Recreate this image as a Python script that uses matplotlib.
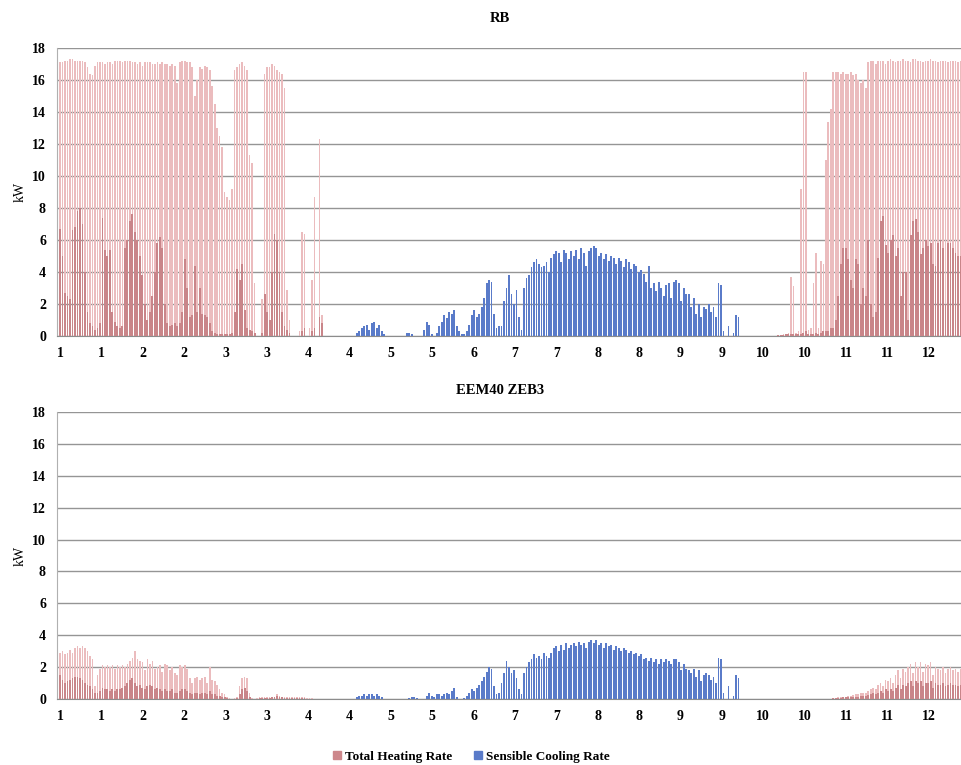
import numpy as np
import matplotlib.pyplot as plt
from matplotlib.patches import Patch

# Daily values (kW), day 0 = 1 January
# x tick labels (month of every 398th hour)
month_labels = [1, 1, 2, 2, 3, 3, 4, 4, 5, 5, 6, 7, 7, 8, 8, 9, 9, 10, 10, 11, 11, 12]

# ---- RB ----
rb_heat_spring_start = 0
rb_heat_spring_peak = [
    17.1, 17.1, 17.2, 17.2, 17.3, 17.3, 17.2, 17.2, 17.2, 17.2,
    17.1, 16.8, 16.4, 16.3, 16.9, 17.1, 17.1, 17.1, 17.0, 17.1,
    17.1, 17.0, 17.2, 17.2, 17.2, 17.1, 17.2, 17.2, 17.2, 17.1,
    17.1, 17.0, 17.1, 16.9, 17.1, 17.1, 17.1, 17.0, 17.0, 17.1,
    17.0, 17.1, 17.0, 17.0, 16.9, 17.0, 16.9, 15.8, 17.1, 17.2,
    17.2, 17.1, 17.1, 16.8, 15.0, 16.0, 16.8, 16.7, 16.9, 16.8,
    16.6, 15.6, 14.5, 13.0, 12.5, 11.8, 9.0, 8.7, 8.5, 9.2,
    16.6, 16.8, 17.0, 17.1, 16.9, 16.6, 11.3, 10.8, 3.3, 0.0,
    0.0, 2.3, 16.4, 16.8, 16.8, 17.0, 16.9, 16.6, 16.5, 16.4,
    15.5, 2.9, 1.0, 0.0, 0.0, 0.0, 0.3, 6.5, 6.4, 0.0,
    0.5, 3.5, 8.7, 0.0, 12.3, 1.3, 0.0,
]
rb_heat_spring_base = [
    6.7, 5.0, 2.7, 2.5, 2.3, 6.6, 6.8, 7.8, 8.0, 7.0,
    4.0, 1.5, 0.8, 0.6, 0.4, 0.5, 0.8, 7.4, 5.4, 5.0,
    5.4, 1.5, 0.9, 0.6, 0.5, 0.6, 5.5, 6.0, 7.2, 7.6,
    6.5, 6.0, 5.0, 3.8, 2.0, 1.0, 1.5, 2.5, 4.0, 5.8,
    6.2, 5.5, 2.0, 0.8, 0.6, 0.7, 0.8, 0.6, 0.8, 1.5,
    4.8, 3.0, 1.2, 1.3, 4.4, 1.5, 3.0, 1.4, 1.3, 1.2,
    0.8, 0.3, 0.2, 0.1, 0.1, 0.1, 0.1, 0.1, 0.1, 0.2,
    1.5, 4.2, 3.5, 4.5, 1.6, 0.5, 0.4, 0.3, 0.2, 0.0,
    0.0, 0.2, 2.6, 1.5, 1.0, 4.0, 6.4, 6.0, 4.0, 1.5,
    0.6, 0.4, 0.2, 0.0, 0.0, 0.0, 0.0, 0.3, 0.5, 0.0,
    0.0, 0.3, 0.5, 0.0, 1.2, 0.8, 0.0,
]
rb_heat_autumn_start = 288
rb_heat_autumn_peak = [
    0.0, 0.0, 0.1, 0.1, 0.2, 3.7, 3.1, 0.2, 0.3, 9.2,
    16.5, 16.5, 0.4, 0.5, 3.3, 5.2, 0.5, 4.7, 4.5, 11.0,
    13.4, 14.2, 16.5, 16.5, 16.5, 16.4, 16.5, 16.4, 16.4, 16.5,
    16.3, 16.4, 16.0, 15.8, 16.0, 15.5, 17.1, 17.2, 17.2, 17.0,
    17.2, 17.2, 17.2, 17.0, 17.2, 17.3, 17.2, 17.1, 17.2, 17.2,
    17.3, 17.2, 17.2, 17.1, 17.3, 17.3, 17.2, 17.2, 17.1, 17.2,
    17.2, 17.3, 17.2, 17.2, 17.1, 17.2, 17.2, 17.2, 17.1, 17.2,
    17.2, 17.2, 17.1, 17.2,
]
rb_heat_autumn_base = [
    0.05, 0.05, 0.05, 0.1, 0.1, 0.1, 0.1, 0.1, 0.1, 0.1,
    0.2, 0.3, 0.1, 0.1, 0.1, 0.2, 0.1, 0.2, 0.3, 0.3,
    0.3, 0.5, 0.5, 1.0, 2.5, 4.5, 5.5, 5.5, 4.8, 3.5,
    3.0, 4.8, 4.5, 2.0, 3.0, 2.5, 6.0, 2.0, 1.2, 1.5,
    4.9, 7.2, 7.5, 5.7, 5.2, 6.0, 6.3, 5.0, 5.5, 2.5,
    4.0, 4.0, 1.0, 6.3, 7.2, 7.3, 6.5, 5.1, 5.5, 6.0,
    5.6, 5.8, 4.5, 4.4, 5.8, 6.0, 5.5, 2.0, 5.8, 5.8,
    5.5, 5.2, 5.0, 5.0,
]
rb_cool_start = 119
rb_cool_peak = [
    0.2, 0.3, 0.5, 0.6, 0.7, 0.4, 0.8, 0.9, 0.5, 0.7,
    0.3, 0.1, 0.0, 0.0, 0.0, 0.0, 0.0, 0.0, 0.0, 0.0,
    0.2, 0.2, 0.1, 0.0, 0.0, 0.0, 0.0, 0.4, 0.9, 0.7,
    0.1, 0.0, 0.2, 0.6, 0.9, 1.3, 1.1, 1.5, 1.4, 1.6,
    0.6, 0.3, 0.1, 0.1, 0.3, 0.7, 1.3, 1.6, 1.2, 1.4,
    1.8, 2.4, 3.3, 3.5, 3.4, 1.4, 0.5, 0.6, 0.6, 2.2,
    3.0, 3.8, 2.6, 2.0, 2.9, 1.2, 0.4, 3.0, 3.6, 3.8,
    4.3, 4.6, 4.8, 4.5, 4.3, 4.4, 4.6, 4.0, 4.9, 5.1,
    5.3, 5.2, 4.6, 5.4, 5.2, 4.8, 5.3, 5.0, 5.4, 4.8,
    5.5, 5.2, 4.4, 5.3, 5.5, 5.6, 5.5, 5.0, 5.2, 4.8,
    5.1, 4.7, 5.0, 4.9, 4.5, 4.9, 4.7, 4.3, 4.8, 4.6,
    4.2, 4.5, 4.4, 4.0, 4.1, 3.9, 3.4, 4.4, 3.0, 3.3,
    2.8, 3.4, 3.0, 2.5, 3.2, 3.3, 2.4, 3.4, 3.5, 3.3,
    2.2, 3.0, 2.6, 2.6, 1.8, 2.4, 1.4, 2.0, 1.2, 1.8,
    1.7, 2.0, 1.5, 1.8, 1.2, 3.3, 3.2, 0.3, 0.0, 0.6,
    0.0, 0.2, 1.3, 1.2,
]

# ---- EEM40 ZEB3 ----
eem_heat_spring_start = 0
eem_heat_spring_peak = [
    2.9, 3.0, 2.8, 2.9, 3.1, 2.9, 3.2, 3.3, 3.2, 3.3,
    3.2, 3.0, 2.7, 2.5, 0.8, 1.5, 1.9, 2.1, 2.0, 2.1,
    2.0, 2.1, 1.9, 2.1, 2.0, 2.1, 2.0, 2.2, 2.4, 2.6,
    3.0, 2.5, 2.4, 2.3, 1.8, 2.5, 2.2, 2.4, 1.9, 2.0,
    2.1, 1.7, 2.2, 2.1, 1.8, 2.0, 1.6, 1.5, 2.1, 2.0,
    2.1, 1.9, 1.3, 1.0, 1.3, 1.4, 1.2, 1.3, 1.4, 1.0,
    2.0, 1.2, 1.1, 0.9, 0.6, 0.4, 0.3, 0.1, 0.05, 0.0,
    0.05, 0.1, 0.8, 1.3, 1.4, 1.3, 0.4, 0.05, 0.0, 0.05,
    0.1, 0.1, 0.1, 0.1, 0.1, 0.15, 0.15, 0.3, 0.2, 0.15,
    0.1, 0.1, 0.1, 0.1, 0.1, 0.1, 0.1, 0.1, 0.1, 0.05,
    0.05, 0.05, 0.0, 0.0, 0.0, 0.0, 0.0,
]
eem_heat_spring_base = [
    1.5, 1.2, 1.0, 1.1, 1.2, 1.3, 1.4, 1.4, 1.3, 1.2,
    1.0, 0.9, 0.8, 0.6, 0.4, 0.4, 0.5, 0.7, 0.6, 0.6,
    0.5, 0.6, 0.5, 0.6, 0.6, 0.7, 0.8, 1.0, 1.2, 1.3,
    1.0, 0.8, 0.9, 0.7, 0.6, 0.8, 0.9, 0.8, 0.6, 0.7,
    0.6, 0.5, 0.6, 0.5, 0.5, 0.6, 0.4, 0.4, 0.5, 0.6,
    0.6, 0.5, 0.4, 0.3, 0.4, 0.4, 0.3, 0.4, 0.4, 0.3,
    0.5, 0.3, 0.3, 0.2, 0.2, 0.1, 0.1, 0.05, 0.0, 0.0,
    0.0, 0.05, 0.3, 0.6, 0.7, 0.5, 0.1, 0.0, 0.0, 0.0,
    0.05, 0.05, 0.05, 0.05, 0.05, 0.1, 0.1, 0.2, 0.1, 0.1,
    0.05, 0.05, 0.05, 0.05, 0.05, 0.05, 0.05, 0.05, 0.05, 0.0,
    0.0, 0.0, 0.0, 0.0, 0.0, 0.0, 0.0,
]
eem_heat_autumn_start = 310
eem_heat_autumn_peak = [
    0.05, 0.05, 0.1, 0.1, 0.15, 0.15, 0.2, 0.2, 0.25, 0.3,
    0.3, 0.35, 0.4, 0.4, 0.5, 0.6, 0.7, 0.6, 0.9, 1.0,
    0.8, 1.2, 1.1, 1.3, 1.0, 1.5, 1.8, 1.3, 1.9, 1.7,
    2.0, 2.2, 1.6, 2.3, 2.0, 2.3, 1.7, 2.2, 2.1, 2.3,
    1.5, 2.0, 1.9, 1.8, 2.0, 1.6, 1.9, 2.0, 1.8, 1.9,
    1.7, 1.9,
]
eem_heat_autumn_base = [
    0.05, 0.05, 0.05, 0.05, 0.1, 0.1, 0.1, 0.1, 0.15, 0.15,
    0.15, 0.2, 0.2, 0.2, 0.25, 0.3, 0.35, 0.3, 0.4, 0.5,
    0.4, 0.6, 0.5, 0.6, 0.5, 0.7, 0.9, 0.6, 0.9, 0.8,
    1.0, 1.1, 0.8, 1.1, 1.0, 1.1, 0.8, 1.0, 1.0, 1.1,
    0.7, 1.0, 0.9, 0.9, 1.0, 0.8, 0.9, 1.0, 0.9, 0.9,
    0.8, 0.9,
]
eem_cool_start = 119
eem_cool_peak = [
    0.1, 0.2, 0.2, 0.3, 0.2, 0.3, 0.3, 0.2, 0.3, 0.2,
    0.1, 0.0, 0.0, 0.0, 0.0, 0.0, 0.0, 0.0, 0.0, 0.0,
    0.0, 0.05, 0.1, 0.1, 0.05, 0.0, 0.0, 0.0, 0.2, 0.4,
    0.2, 0.1, 0.3, 0.3, 0.2, 0.3, 0.4, 0.3, 0.5, 0.7,
    0.1, 0.0, 0.0, 0.05, 0.2, 0.4, 0.6, 0.5, 0.7, 0.9,
    1.1, 1.4, 1.7, 2.0, 1.9, 0.8, 0.3, 0.4, 1.0, 1.6,
    2.4, 2.0, 1.6, 1.8, 1.3, 0.6, 0.3, 1.6, 2.0, 2.3,
    2.5, 2.8, 2.6, 2.7, 2.5, 2.9, 2.7, 2.6, 2.9, 3.2,
    3.3, 3.0, 3.4, 3.1, 3.5, 3.2, 3.4, 3.5, 3.3, 3.6,
    3.4, 3.5, 3.2, 3.6, 3.7, 3.5, 3.7, 3.4, 3.5, 3.2,
    3.5, 3.3, 3.4, 3.1, 3.3, 3.2, 3.0, 3.2, 3.1, 2.9,
    3.0, 2.8, 2.9, 2.7, 2.8, 2.5, 2.6, 2.4, 2.6, 2.3,
    2.5, 2.2, 2.5, 2.3, 2.5, 2.4, 2.2, 2.5, 2.5, 2.3,
    1.8, 2.2, 1.9, 1.8, 1.6, 1.9, 1.4, 1.8, 1.1, 1.5,
    1.6, 1.5, 1.2, 1.4, 1.0, 2.6, 2.5, 0.4, 0.0, 0.8,
    0.0, 0.2, 1.5, 1.3,
]

HEAT_LIGHT = '#ebbcbe'
HEAT_DARK = '#c98589'
HEAT_LEGEND = '#cd878b'
COOL = '#5a7bc9'
GRID = '#959595'

plt.rcParams['font.family'] = ['Liberation Serif', 'DejaVu Serif']

fig = plt.figure(figsize=(9.62, 7.65), dpi=100)
ax_top = fig.add_axes([0.0593, 0.5608, 0.9407, 0.3765])
ax_bot = fig.add_axes([0.0593, 0.0863, 0.9407, 0.3752])


def draw_panel(ax, heat_parts, cool_start, cool_vals):
    for start, peak, base in heat_parts:
        days = np.arange(start, start + len(peak))
        ax.bar(days, peak, width=0.65, color=HEAT_LIGHT, linewidth=0, zorder=2)
        ax.bar(days, base, width=0.75, color=HEAT_DARK, linewidth=0, zorder=3)
    cdays = np.arange(cool_start, cool_start + len(cool_vals))
    ax.bar(cdays, cool_vals, width=0.75, color=COOL, linewidth=0, zorder=3)

    ax.set_xlim(-1.2, 361.6)
    ax.set_ylim(0, 18)
    ax.set_yticks(range(0, 19, 2))
    ax.yaxis.grid(True, color=GRID, linewidth=1.0, zorder=0)
    ax.set_axisbelow(True)
    tick_pos = np.arange(len(month_labels)) * 398 / 24
    ax.set_xticks(tick_pos)
    ax.set_xticklabels(month_labels)
    ax.tick_params(length=0, labelsize=10, pad=8)
    for lab in ax.get_xticklabels() + ax.get_yticklabels():
        lab.set_fontweight('bold')
    for side in ['top', 'right']:
        ax.spines[side].set_visible(False)
    ax.spines['left'].set_color('#b0b0b0')
    ax.spines['bottom'].set_color('#8c8c8c')
    ax.set_ylabel('kW', fontsize=10, labelpad=4)


draw_panel(ax_top,
           [(rb_heat_spring_start, rb_heat_spring_peak, rb_heat_spring_base),
            (rb_heat_autumn_start, rb_heat_autumn_peak, rb_heat_autumn_base)],
           rb_cool_start, rb_cool_peak)
draw_panel(ax_bot,
           [(eem_heat_spring_start, eem_heat_spring_peak, eem_heat_spring_base),
            (eem_heat_autumn_start, eem_heat_autumn_peak, eem_heat_autumn_base)],
           eem_cool_start, eem_cool_peak)

fig.text(0.52, 0.976, 'RB', ha='center', va='center', fontsize=10.5, fontweight='bold')
fig.text(0.52, 0.489, 'EEM40 ZEB3', ha='center', va='center', fontsize=10.5, fontweight='bold')

handles = [Patch(color=HEAT_LEGEND, label='Total Heating Rate'),
           Patch(color=COOL, label='Sensible Cooling Rate')]
fig.legend(handles=handles, loc='center', bbox_to_anchor=(0.49, 0.011), ncol=2,
           frameon=False, prop={'weight': 'bold', 'size': 9.5},
           handlelength=0.6, handleheight=0.6, handletextpad=0.3, columnspacing=1.6)

fig.savefig('out.png', dpi=100)
